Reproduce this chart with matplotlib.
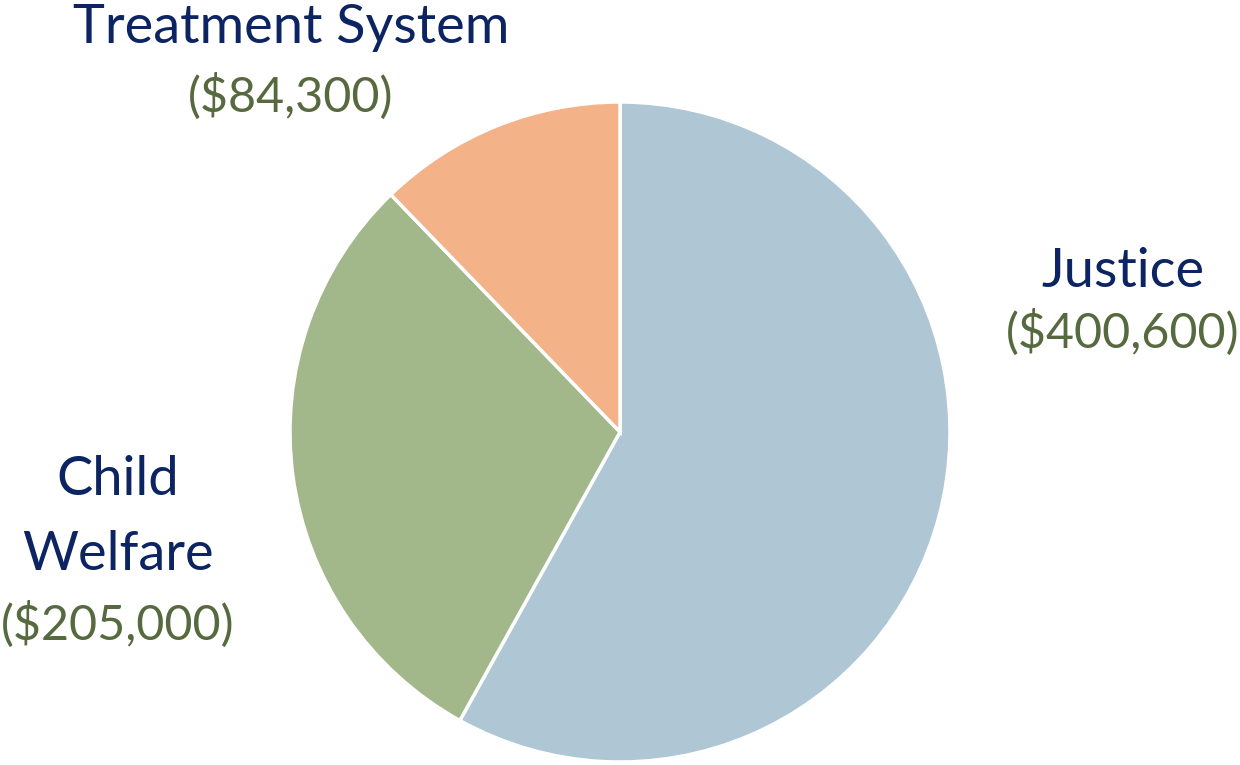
import matplotlib
matplotlib.use("Agg")
import matplotlib.pyplot as plt

categories = ["Justice", "Child\nWelfare", "Treatment System"]
values = [400600, 205000, 84300]
value_labels = ["($400,600)", "($205,000)", "($84,300)"]
colors = ["#afc7d4", "#a2b78a", "#f3b287"]

W, H = 1240, 765
fig = plt.figure(figsize=(W / 100, H / 100), dpi=100)
ax = fig.add_axes([0, 0, 1, 1])
ax.set_xlim(0, W)
ax.set_ylim(0, H)
ax.set_aspect("equal")
ax.axis("off")

ax.pie(values, colors=colors, startangle=90, counterclock=False,
       center=(620, H - 432), radius=330,
       wedgeprops=dict(edgecolor="white", linewidth=2.5))
ax.set_xlim(0, W)
ax.set_ylim(0, H)

navy = "#0c2461"
green = "#56693f"
fs_name = 39
fs_val = 34.8
font = ["Lato", "DejaVu Sans"]

# label positions (pixel coordinates from top)
lab_pos = {
    "Justice": (1123, [287], 348),
    "Child\nWelfare": (118, [495, 570], 640),
    "Treatment System": (291, [43], 112),
}
for cat, vl in zip(categories, value_labels):
    x, ys, yv = lab_pos[cat]
    for line, y in zip(cat.split("\n"), ys):
        ax.text(x, H - y, line, ha="center", va="baseline", fontsize=fs_name,
                color=navy, family=font)
    ax.text(x, H - yv, vl, ha="center", va="baseline", fontsize=fs_val,
            color=green, family=font)

fig.savefig("out.png", dpi=100)
